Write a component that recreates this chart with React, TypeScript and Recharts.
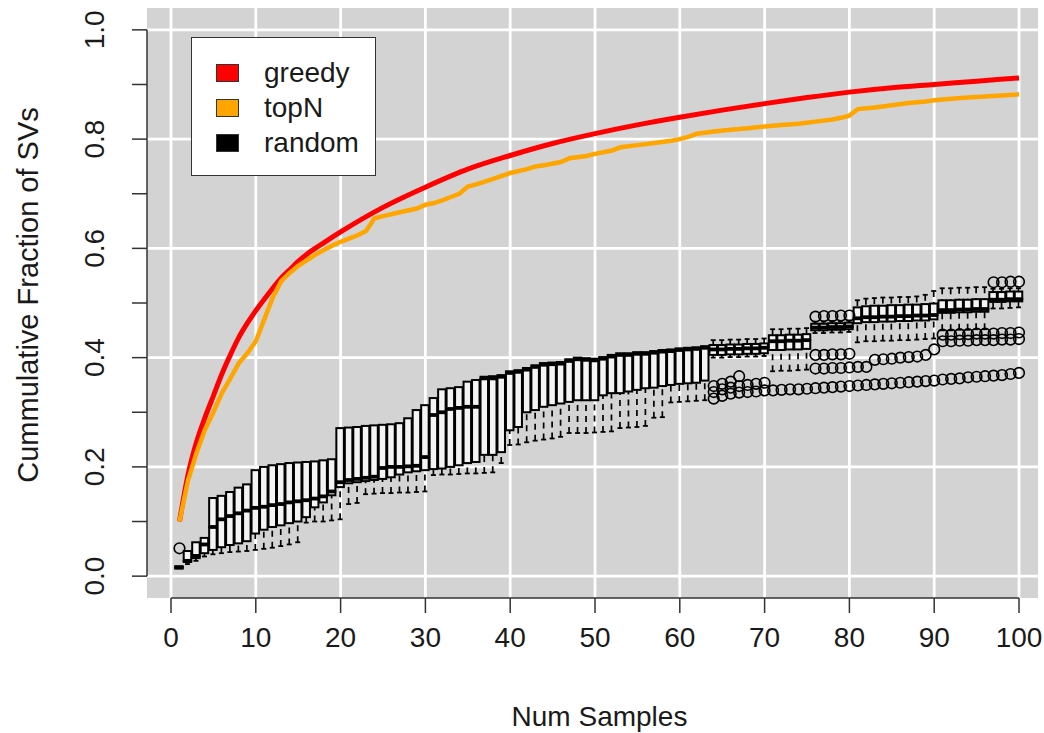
import { ComposedChart, Bar, Line, Scatter, XAxis, YAxis, CartesianGrid, ReferenceLine, Legend } from 'recharts';

// sample counts (x positions of the random boxplots)
const samples = [
  1, 2, 3, 4, 5, 6, 7, 8, 9, 10, 11, 12, 13, 14, 15, 16, 17, 18, 19, 20,
  21, 22, 23, 24, 25, 26, 27, 28, 29, 30, 31, 32, 33, 34, 35, 36, 37, 38, 39, 40,
  41, 42, 43, 44, 45, 46, 47, 48, 49, 50, 51, 52, 53, 54, 55, 56, 57, 58, 59, 60,
  61, 62, 63, 64, 65, 66, 67, 68, 69, 70, 71, 72, 73, 74, 75, 76, 77, 78, 79, 80,
  81, 82, 83, 84, 85, 86, 87, 88, 89, 90, 91, 92, 93, 94, 95, 96, 97, 98, 99, 100,
];

// random: boxplot statistics per sample count
const whiskerLow = [
  0.014, 0.022, 0.028, 0.036, 0.04, 0.042, 0.044, 0.045, 0.046, 0.048,
  0.05, 0.052, 0.055, 0.058, 0.062, 0.098, 0.1, 0.1, 0.102, 0.104,
  0.132, 0.134, 0.15, 0.151, 0.152, 0.152, 0.153, 0.153, 0.154, 0.155,
  0.185, 0.186, 0.186, 0.187, 0.188, 0.188, 0.189, 0.19, 0.207, 0.24,
  0.241, 0.245, 0.248, 0.25, 0.252, 0.255, 0.262, 0.262, 0.262, 0.263,
  0.264, 0.265, 0.271, 0.272, 0.273, 0.275, 0.29, 0.291, 0.318, 0.319,
  0.32, 0.321, 0.322, 0.4, 0.4, 0.401, 0.401, 0.402, 0.402, 0.403,
  0.375, 0.376, 0.376, 0.377, 0.378, 0.445, 0.445, 0.446, 0.446, 0.447,
  0.428, 0.43, 0.43, 0.431, 0.431, 0.432, 0.432, 0.433, 0.434, 0.435,
  0.45, 0.45, 0.451, 0.451, 0.452, 0.452, 0.49, 0.49, 0.491, 0.492,
];
const quartile1 = [
  0.014, 0.026, 0.033, 0.042, 0.048, 0.053, 0.057, 0.06, 0.064, 0.078,
  0.085, 0.09, 0.093, 0.097, 0.1, 0.108, 0.126, 0.135, 0.148, 0.163,
  0.17, 0.172, 0.174, 0.176, 0.178, 0.181, 0.186, 0.19, 0.192, 0.194,
  0.196, 0.197, 0.2, 0.203, 0.207, 0.209, 0.222, 0.222, 0.227, 0.267,
  0.273, 0.3, 0.304, 0.31, 0.313, 0.316, 0.319, 0.322, 0.322, 0.322,
  0.331, 0.335, 0.335, 0.338, 0.341, 0.344, 0.345, 0.348, 0.35, 0.352,
  0.353, 0.354, 0.358, 0.405, 0.405, 0.406, 0.406, 0.407, 0.407, 0.408,
  0.414, 0.414, 0.415, 0.415, 0.416, 0.45, 0.45, 0.451, 0.451, 0.452,
  0.463, 0.465, 0.465, 0.466, 0.466, 0.467, 0.467, 0.468, 0.468, 0.47,
  0.482, 0.482, 0.483, 0.483, 0.484, 0.484, 0.502, 0.502, 0.503, 0.503,
];
const medians = [
  0.016, 0.028, 0.037, 0.058, 0.09, 0.104, 0.11, 0.115, 0.12, 0.125,
  0.127, 0.13, 0.132, 0.135, 0.137, 0.139, 0.142, 0.146, 0.155, 0.172,
  0.176, 0.178, 0.18, 0.182, 0.198, 0.2, 0.2, 0.201, 0.202, 0.218,
  0.295, 0.3, 0.306, 0.308, 0.31, 0.31, 0.362, 0.362, 0.365, 0.372,
  0.374, 0.378, 0.383, 0.387, 0.388, 0.389, 0.394, 0.397, 0.396, 0.395,
  0.398, 0.402, 0.405, 0.405, 0.407, 0.407, 0.409, 0.411, 0.412, 0.414,
  0.415, 0.416, 0.418, 0.415, 0.415, 0.416, 0.416, 0.417, 0.417, 0.418,
  0.43, 0.43, 0.431, 0.431, 0.432, 0.455, 0.455, 0.456, 0.456, 0.457,
  0.472, 0.474, 0.474, 0.475, 0.475, 0.476, 0.476, 0.477, 0.477, 0.478,
  0.487, 0.487, 0.488, 0.488, 0.489, 0.489, 0.506, 0.506, 0.507, 0.507,
];
const quartile3 = [
  0.018, 0.046, 0.062, 0.07, 0.143, 0.147, 0.154, 0.162, 0.168, 0.194,
  0.2, 0.203, 0.205, 0.207, 0.208, 0.209, 0.21, 0.212, 0.214, 0.271,
  0.272, 0.273, 0.275, 0.276, 0.277, 0.278, 0.28, 0.289, 0.304, 0.313,
  0.326, 0.342, 0.344, 0.346, 0.356, 0.359, 0.365, 0.366, 0.368, 0.375,
  0.377, 0.381, 0.386, 0.39, 0.391, 0.392, 0.397, 0.4, 0.399, 0.398,
  0.401, 0.405, 0.408, 0.408, 0.41, 0.41, 0.412, 0.414, 0.415, 0.417,
  0.418, 0.419, 0.421, 0.423, 0.423, 0.424, 0.424, 0.425, 0.425, 0.426,
  0.441, 0.441, 0.442, 0.442, 0.443, 0.462, 0.462, 0.463, 0.463, 0.464,
  0.492, 0.494, 0.495, 0.495, 0.496, 0.496, 0.497, 0.497, 0.498, 0.499,
  0.505, 0.505, 0.506, 0.506, 0.507, 0.507, 0.52, 0.52, 0.521, 0.521,
];
const whiskerHigh = [
  0.018, 0.046, 0.062, 0.07, 0.143, 0.147, 0.154, 0.162, 0.168, 0.194,
  0.2, 0.203, 0.205, 0.207, 0.208, 0.209, 0.21, 0.212, 0.214, 0.271,
  0.272, 0.273, 0.275, 0.276, 0.277, 0.278, 0.28, 0.289, 0.304, 0.313,
  0.326, 0.342, 0.344, 0.346, 0.356, 0.359, 0.365, 0.366, 0.368, 0.375,
  0.377, 0.381, 0.386, 0.39, 0.391, 0.392, 0.397, 0.4, 0.399, 0.398,
  0.401, 0.405, 0.408, 0.408, 0.41, 0.41, 0.412, 0.414, 0.415, 0.417,
  0.418, 0.419, 0.421, 0.432, 0.432, 0.433, 0.433, 0.434, 0.434, 0.435,
  0.452, 0.452, 0.453, 0.453, 0.454, 0.466, 0.466, 0.467, 0.467, 0.468,
  0.505, 0.508, 0.509, 0.51, 0.51, 0.511, 0.511, 0.512, 0.515, 0.522,
  0.527, 0.527, 0.528, 0.528, 0.529, 0.529, 0.526, 0.526, 0.527, 0.527,
];

// random: outlier points [samples, fraction]
const outliers: [number, number][] = [
  [1, 0.051],
  [64, 0.325], [64, 0.337], [64, 0.348], [65, 0.33], [65, 0.342], [65, 0.352],
  [66, 0.334], [66, 0.345], [66, 0.356], [67, 0.336], [67, 0.348], [67, 0.366],
  [68, 0.337], [68, 0.35], [69, 0.338], [69, 0.352], [70, 0.34], [70, 0.354],
  [71, 0.34], [72, 0.341], [73, 0.342], [74, 0.342], [75, 0.343],
  [76, 0.475], [76, 0.405], [76, 0.38], [76, 0.344],
  [77, 0.476], [77, 0.405], [77, 0.38], [77, 0.345],
  [78, 0.476], [78, 0.406], [78, 0.381], [78, 0.346],
  [79, 0.477], [79, 0.406], [79, 0.381], [79, 0.347],
  [80, 0.477], [80, 0.407], [80, 0.382], [80, 0.348],
  [81, 0.383], [81, 0.349], [82, 0.383], [82, 0.35],
  [83, 0.396], [83, 0.351], [84, 0.397], [84, 0.352], [85, 0.398], [85, 0.353],
  [86, 0.4], [86, 0.354], [87, 0.401], [87, 0.355], [88, 0.402], [88, 0.356],
  [89, 0.405], [89, 0.357], [90, 0.415], [90, 0.358],
  [91, 0.43], [91, 0.442], [91, 0.36], [92, 0.43], [92, 0.442], [92, 0.361],
  [93, 0.431], [93, 0.443], [93, 0.362], [94, 0.431], [94, 0.443], [94, 0.364],
  [95, 0.432], [95, 0.444], [95, 0.365], [96, 0.432], [96, 0.444], [96, 0.366],
  [97, 0.432], [97, 0.444], [97, 0.367], [97, 0.538],
  [98, 0.433], [98, 0.445], [98, 0.368], [98, 0.538],
  [99, 0.433], [99, 0.445], [99, 0.37], [99, 0.539],
  [100, 0.434], [100, 0.446], [100, 0.372], [100, 0.539],
];

// greedy and topN curves [samples, fraction]
const greedy: [number, number][] = [
  [1, 0.1], [2, 0.185], [3, 0.245], [4, 0.29], [5, 0.33], [6, 0.37], [7, 0.405],
  [8, 0.437], [9, 0.463], [10, 0.486], [11, 0.507], [12, 0.527], [13, 0.546],
  [14, 0.561], [15, 0.576], [16, 0.589], [18, 0.61], [20, 0.63], [25, 0.675],
  [30, 0.712], [35, 0.745], [40, 0.77], [45, 0.792], [50, 0.81], [55, 0.826],
  [60, 0.84], [65, 0.853], [70, 0.865], [75, 0.876], [80, 0.886], [85, 0.894],
  [90, 0.9], [95, 0.906], [100, 0.912],
];
const topN: [number, number][] = [
  [1, 0.1], [2, 0.175], [3, 0.225], [4, 0.268], [5, 0.3], [6, 0.335], [7, 0.362],
  [8, 0.39], [9, 0.408], [10, 0.43], [11, 0.47], [12, 0.51], [13, 0.54], [14, 0.555],
  [15, 0.568], [16, 0.578], [17, 0.588], [18, 0.597], [19, 0.605], [20, 0.612],
  [21, 0.618], [22, 0.624], [23, 0.632], [24, 0.655], [25, 0.659], [27, 0.666],
  [29, 0.673], [30, 0.68], [31, 0.683], [32, 0.688], [33, 0.694], [34, 0.7],
  [35, 0.713], [36, 0.717], [37, 0.722], [38, 0.727], [40, 0.738], [42, 0.745],
  [43, 0.75], [44, 0.752], [46, 0.758], [47, 0.765], [49, 0.769], [50, 0.773],
  [52, 0.779], [53, 0.785], [55, 0.789], [57, 0.793], [59, 0.797], [60, 0.8],
  [61, 0.804], [62, 0.81], [64, 0.814], [66, 0.817], [68, 0.82], [70, 0.823],
  [72, 0.826], [74, 0.828], [76, 0.832], [78, 0.836], [79, 0.839], [80, 0.843],
  [81, 0.855], [83, 0.858], [85, 0.862], [87, 0.866], [89, 0.869], [90, 0.871],
  [92, 0.874], [94, 0.876], [96, 0.878], [98, 0.88], [100, 0.882],
];

const seriesNames = ['greedy', 'topN', 'random'];
const seriesColors = ['#ff0000', '#ffa500', '#000000'];

const xTicks = [0, 10, 20, 30, 40, 50, 60, 70, 80, 90, 100];
const yTicks = [0, 0.1, 0.2, 0.3, 0.4, 0.5, 0.6, 0.7, 0.8, 0.9, 1];
const yGrid = [0, 0.2, 0.4, 0.6, 0.8, 1];

const X_MIN = -2.83;
const X_MAX = 102.24;
const Y_MIN = -0.04;
const Y_MAX = 1.04;
const FONT = "'Liberation Sans', Arial, Helvetica, sans-serif";
const INK = '#1a1a1a';
const BOX_W = 7.5;

// stacked segments: invisible base, lower whisker, lower box half, upper box half, upper whisker
const boxRows = samples.map((n, i) => ({
  x: n,
  base: whiskerLow[i],
  lowW: quartile1[i] - whiskerLow[i],
  boxLo: medians[i] - quartile1[i],
  boxHi: quartile3[i] - medians[i],
  highW: whiskerHigh[i] - quartile3[i],
}));

const greedyData = greedy.map(([x, y]) => ({ x, y }));
const topNData = topN.map(([x, y]) => ({ x, y }));
const outlierData = outliers.map(([x, y]) => ({ x, y }));

const Empty = () => <g />;

const LowWhisker = (p: any) => {
  if (!(p.height > 0.8)) return <g />;
  const cx = p.x + p.width / 2;
  const bottom = p.y + p.height;
  return (
    <g>
      <line x1={cx} y1={bottom} x2={cx} y2={p.y} stroke="#000" strokeWidth={1.7} strokeDasharray="6 5" />
      <line x1={cx - 2.5} x2={cx + 2.5} y1={bottom} y2={bottom} stroke="#000" strokeWidth={1.8} />
    </g>
  );
};

const HighWhisker = (p: any) => {
  if (!(p.height > 0.8)) return <g />;
  const cx = p.x + p.width / 2;
  return (
    <g>
      <line x1={cx} y1={p.y} x2={cx} y2={p.y + p.height} stroke="#000" strokeWidth={1.7} strokeDasharray="6 5" />
      <line x1={cx - 2.5} x2={cx + 2.5} y1={p.y} y2={p.y} stroke="#000" strokeWidth={1.8} />
    </g>
  );
};

const BoxLower = (p: any) => (
  <rect x={p.x} y={p.y} width={p.width} height={Math.max(p.height, 0)} fill="#f4f4f4" stroke="#000" strokeWidth={2} />
);

const BoxUpper = (p: any) => (
  <g>
    <rect x={p.x} y={p.y} width={p.width} height={Math.max(p.height, 0)} fill="#f4f4f4" stroke="#000" strokeWidth={2} />
    <line x1={p.x - 0.5} x2={p.x + p.width + 0.5} y1={p.y + p.height} y2={p.y + p.height} stroke="#000" strokeWidth={3.8} />
  </g>
);

const Outlier = (p: any) => <circle cx={p.cx} cy={p.cy} r={5.3} fill="none" stroke="#000" strokeWidth={1.6} />;

const XTick = (p: any) => (
  <text x={p.x} y={p.y} dy={20} textAnchor="middle" fontSize={28} fontFamily={FONT} fill={INK}>
    {p.payload.value}
  </text>
);

const YTick = (p: any) => {
  const v = p.payload.value;
  if (Math.round(v * 10) % 2 !== 0) return <g />;
  const tx = p.x - 26;
  return (
    <text x={tx} y={p.y} transform={`rotate(-90, ${tx}, ${p.y})`} textAnchor="middle" fontSize={28} fontFamily={FONT} fill={INK}>
      {v.toFixed(1)}
    </text>
  );
};

const XTitle = (p: any) => {
  const vb = p.viewBox;
  return (
    <text x={vb.x + vb.width / 2 + 7} y={vb.y + 128} textAnchor="middle" fontSize={28} fontFamily={FONT} fill={INK}>
      Num Samples
    </text>
  );
};

const YTitle = (p: any) => {
  const vb = p.viewBox;
  const cy = vb.y + vb.height / 2 - 8;
  const tx = 38;
  return (
    <text x={tx} y={cy} transform={`rotate(-90, ${tx}, ${cy})`} textAnchor="middle" fontSize={29} fontFamily={FONT} fill={INK}>
      Cummulative Fraction of SVs
    </text>
  );
};

const LegendBox = () => (
  <div
    style={{
      width: 185,
      height: 139,
      boxSizing: 'border-box',
      background: '#fff',
      border: '1.5px solid #333',
      position: 'relative',
      fontFamily: FONT,
      fontSize: 28,
      color: INK,
    }}
  >
    {seriesNames.map((name, i) => (
      <div key={name} style={{ position: 'absolute', left: 0, top: 18 + i * 35, height: 34, width: '100%' }}>
        <div
          style={{
            position: 'absolute',
            left: 24,
            top: 8,
            width: 23,
            height: 18,
            boxSizing: 'border-box',
            background: seriesColors[i],
            border: '1.5px solid #333',
          }}
        />
        <div style={{ position: 'absolute', left: 72, top: 0, lineHeight: '34px' }}>{name}</div>
      </div>
    ))}
  </div>
);

export default function App() {
  return (
    <div style={{ position: 'absolute', left: 0, top: 0, width: 1044, height: 733, background: '#fff' }}>
      <ComposedChart width={1044} height={733} data={boxRows} margin={{ top: 8, right: 6, bottom: 0, left: 0 }}>
        <CartesianGrid
          fill="#d3d3d3"
          stroke="#ffffff"
          strokeWidth={2.8}
          horizontalValues={yGrid}
          verticalValues={xTicks}
        />
        <XAxis
          dataKey="x"
          type="number"
          domain={[X_MIN, X_MAX]}
          allowDataOverflow
          ticks={xTicks}
          interval={0}
          height={135}
          axisLine={false}
          tickSize={15}
          tickMargin={14}
          tickLine={{ stroke: '#333', strokeWidth: 1.5 }}
          tick={XTick}
          label={XTitle}
        />
        <YAxis
          type="number"
          domain={[Y_MIN, Y_MAX]}
          allowDataOverflow
          ticks={yTicks}
          interval={0}
          width={147}
          axisLine={false}
          tickSize={15}
          tickLine={{ stroke: '#333', strokeWidth: 1.5 }}
          tick={YTick}
          label={YTitle}
        />
        <ReferenceLine segment={[{ x: 0, y: Y_MIN }, { x: 100, y: Y_MIN }]} stroke="#333" strokeWidth={1.5} ifOverflow="visible" />
        <ReferenceLine segment={[{ x: X_MIN, y: 0 }, { x: X_MIN, y: 1 }]} stroke="#333" strokeWidth={1.5} ifOverflow="visible" />
        <Bar dataKey="base" stackId="box" barSize={BOX_W} shape={Empty} isAnimationActive={false} />
        <Bar dataKey="lowW" stackId="box" barSize={BOX_W} shape={LowWhisker} isAnimationActive={false} />
        <Bar dataKey="boxLo" stackId="box" barSize={BOX_W} shape={BoxLower} isAnimationActive={false} />
        <Bar dataKey="boxHi" stackId="box" barSize={BOX_W} shape={BoxUpper} isAnimationActive={false} />
        <Bar dataKey="highW" stackId="box" barSize={BOX_W} shape={HighWhisker} isAnimationActive={false} />
        <Scatter data={outlierData} dataKey="y" shape={Outlier} isAnimationActive={false} />
        <Line data={greedyData} dataKey="y" type="monotone" stroke={seriesColors[0]} strokeWidth={5} dot={false} isAnimationActive={false} />
        <Line data={topNData} dataKey="y" type="linear" stroke={seriesColors[1]} strokeWidth={4.5} dot={false} isAnimationActive={false} />
        <Legend
          layout="vertical"
          align="center"
          verticalAlign="middle"
          content={LegendBox}
          wrapperStyle={{ left: 191, top: 37, width: 185, height: 139 }}
        />
      </ComposedChart>
    </div>
  );
}
